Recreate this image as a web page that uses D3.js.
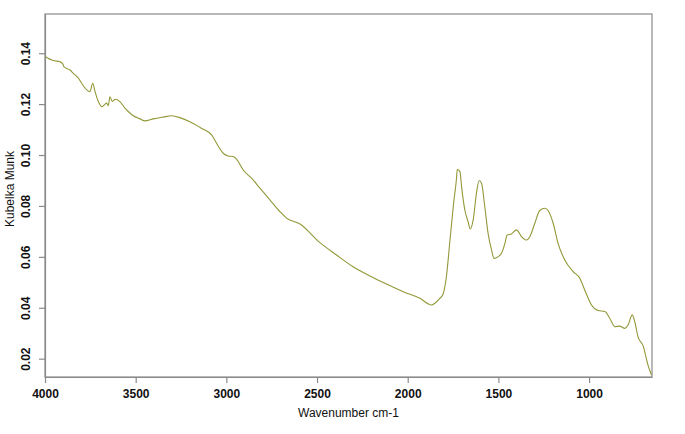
<!DOCTYPE html>
<html>
<head>
<meta charset="utf-8">
<script src="https://cdn.jsdelivr.net/npm/d3@7"></script>
<style>
  body { margin: 0; background: #fff; }
  text { font-family: "Liberation Sans", Arial, sans-serif; }
</style>
</head>
<body>
<div id="chart"></div>
<script>
// spectrum (wavenumber, Kubelka Munk)
var wavenumber = [4000, 3954, 3917, 3902, 3895, 3862, 3844, 3816, 3798, 3770, 3752, 3737, 3724, 3706,
    3687, 3673, 3660, 3651, 3642, 3629, 3614, 3587, 3559, 3541, 3513, 3476, 3449, 3403, 3348, 3302,
    3256, 3201, 3146, 3127, 3081, 3054, 3017, 2990, 2962, 2943, 2907, 2861, 2815, 2760, 2705, 2668,
    2594, 2484, 2392, 2301, 2209, 2117, 2025, 1933, 1869, 1850, 1823, 1806, 1788, 1766, 1746, 1731,
    1727, 1712, 1703, 1685, 1667, 1655, 1639, 1621, 1606, 1593, 1575, 1557, 1538, 1524, 1501, 1483,
    1464, 1452, 1428, 1400, 1372, 1345, 1327, 1299, 1272, 1244, 1226, 1198, 1171, 1134, 1088, 1051,
    1024, 987, 950, 913, 886, 858, 831, 803, 785, 762, 748, 730, 702, 675, 656];
var kubelka = [0.1387, 0.1371, 0.1366, 0.1358, 0.1346, 0.1334, 0.1321, 0.1302, 0.1282, 0.1256, 0.1249,
    0.1282, 0.1249, 0.1210, 0.1190, 0.1197, 0.1204, 0.1194, 0.1229, 0.1210, 0.1219, 0.1210, 0.1184,
    0.1171, 0.1154, 0.1142, 0.1134, 0.1142, 0.1149, 0.1154, 0.1147, 0.1131, 0.1109, 0.1101, 0.1079,
    0.1046, 0.1007, 0.0996, 0.0994, 0.0983, 0.0941, 0.0909, 0.0870, 0.0824, 0.0778, 0.0752, 0.0729,
    0.0656, 0.0607, 0.0561, 0.0525, 0.0493, 0.0463, 0.0437, 0.0411, 0.0418, 0.0437, 0.0452, 0.0515,
    0.0672, 0.0817, 0.0908, 0.0943, 0.0935, 0.0876, 0.0784, 0.0738, 0.0710, 0.0745, 0.0850, 0.0900,
    0.0889, 0.0797, 0.0693, 0.0627, 0.0594, 0.0601, 0.0614, 0.0653, 0.0686, 0.0690, 0.0706, 0.0679,
    0.0666, 0.0679, 0.0732, 0.0782, 0.0791, 0.0782, 0.0732, 0.0653, 0.0588, 0.0542, 0.0516, 0.0470,
    0.0411, 0.0389, 0.0385, 0.0359, 0.0326, 0.0328, 0.0319, 0.0332, 0.0372, 0.0345, 0.0286, 0.0250,
    0.0175, 0.0136];
var xTicks = [4000, 3500, 3000, 2500, 2000, 1500, 1000];
var yTicks = [0.02, 0.04, 0.06, 0.08, 0.10, 0.12, 0.14];

var width = 685, height = 434;
var margin = { left: 45, right: 33, top: 14, bottom: 57 };

var svg = d3.select("#chart")
    .append("svg")
    .attr("width", width)
    .attr("height", height);

var x = d3.scaleLinear()
    .domain([4000, 653])
    .range([margin.left, width - margin.right]);

var y = d3.scaleLinear()
    .domain([0.0128, 0.1554])
    .range([height - margin.bottom, margin.top]);

var axisColour = "#8a8a8a";

// box
svg.append("rect")
    .attr("x", margin.left)
    .attr("y", margin.top)
    .attr("width", width - margin.left - margin.right)
    .attr("height", height - margin.top - margin.bottom)
    .attr("fill", "none")
    .attr("stroke", axisColour)
    .attr("stroke-width", 1.2);

var xAxis = svg.append("g")
    .attr("transform", "translate(0," + (height - margin.bottom) + ")")
    .call(d3.axisBottom(x).tickValues(xTicks).tickSize(6).tickSizeOuter(0).tickPadding(6)
        .tickFormat(d3.format("d")));

var yAxis = svg.append("g")
    .attr("transform", "translate(" + margin.left + ",0)")
    .call(d3.axisLeft(y).tickValues(yTicks).tickSize(6).tickSizeOuter(0)
        .tickFormat(d3.format(".2f")));

[xAxis, yAxis].forEach(function (g) {
    g.select(".domain").attr("stroke", axisColour).attr("stroke-width", 1.2);
    g.selectAll(".tick line").attr("stroke", axisColour).attr("stroke-width", 1.2);
    g.selectAll("text")
        .attr("fill", "#111")
        .style("font-size", "12px")
        .style("font-weight", "bold")
        .style("font-family", "'Liberation Sans', Arial, sans-serif");
});

// y labels rotated like R's default
yAxis.selectAll(".tick text")
    .attr("x", null)
    .attr("dy", null)
    .attr("text-anchor", "middle")
    .attr("transform", "translate(-15,0) rotate(-90)");

svg.append("text")
    .attr("x", (x(4000) + x(653)) / 2)
    .attr("y", 417)
    .attr("text-anchor", "middle")
    .style("font-size", "12px")
    .attr("fill", "#111")
    .text("Wavenumber cm-1");

svg.append("text")
    .attr("transform", "translate(14,189) rotate(-90)")
    .attr("text-anchor", "middle")
    .style("font-size", "12px")
    .attr("fill", "#111")
    .text("Kubelka Munk");

var line = d3.line()
    .x(function (d, i) { return x(wavenumber[i]); })
    .y(function (d) { return y(d); })
    .curve(d3.curveMonotoneX);

svg.append("path")
    .datum(kubelka)
    .attr("d", line)
    .attr("fill", "none")
    .attr("stroke", "#939838")
    .attr("stroke-width", 1.1);
</script>
</body>
</html>
